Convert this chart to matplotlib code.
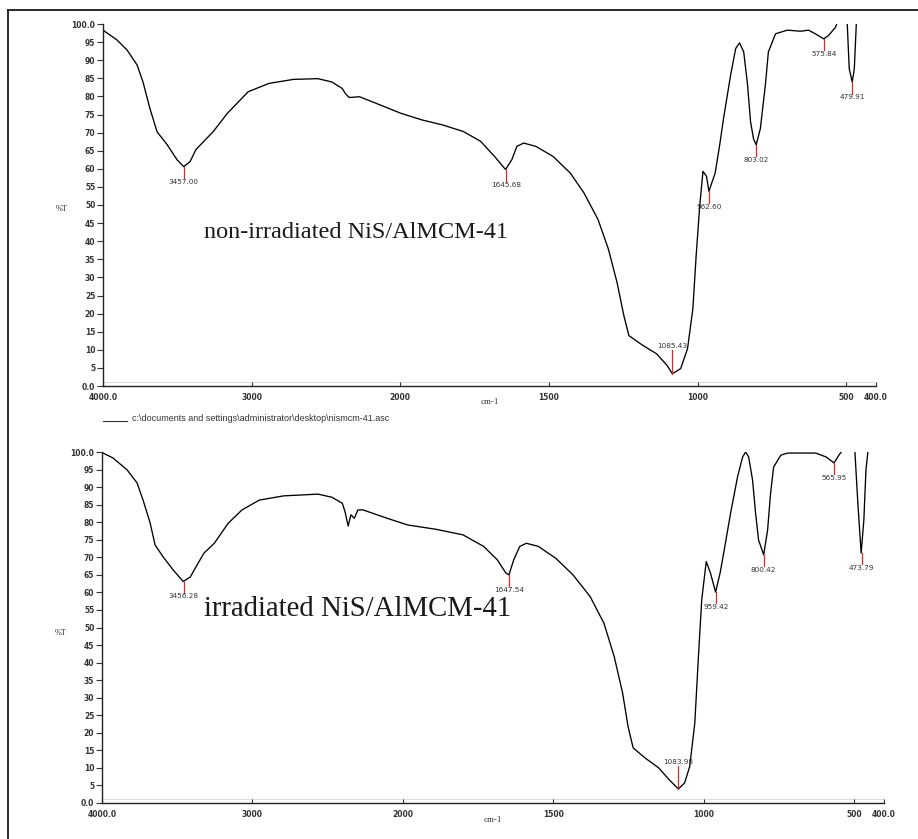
import numpy as np
import matplotlib
matplotlib.use("Agg")
import matplotlib.pyplot as plt
from matplotlib.lines import Line2D

# ---------------- data ----------------
top_wn = [4000, 3993, 3906, 3838, 3771, 3731, 3684, 3636, 3569, 3502, 3457, 3414, 3375, 3258, 3164,
          3023, 2883, 2719, 2555, 2461, 2391, 2368, 2344, 2274, 2133, 1997, 1927, 1857, 1788, 1730,
          1683, 1646, 1625, 1608, 1585, 1544, 1486, 1428, 1382, 1335, 1300, 1271, 1248, 1231, 1184,
          1138, 1103, 1085, 1057, 1034, 1016, 1005, 993, 982, 970, 962, 941, 925, 913, 889,
          872, 859, 845, 832, 822, 812, 803, 789, 772, 762, 738, 698, 654, 627, 604,
          576, 560, 537, 522, 505, 497, 490, 480, 473, 466, 455, 400]
top_t = [98.5, 98.1, 95.6, 92.8, 88.7, 84.0, 76.6, 70.2, 66.7, 62.5, 60.6, 62.0, 65.3, 70.3, 75.3,
         81.3, 83.6, 84.7, 84.9, 84.0, 82.2, 80.7, 79.7, 79.9, 77.6, 75.3, 73.5, 72.1, 70.3, 67.6,
         63.4, 59.8, 62.5, 66.2, 67.1, 66.2, 63.4, 58.8, 53.3, 46.0, 37.8, 28.6, 19.4, 13.9, 11.2,
         8.9, 5.7, 3.4, 4.8, 10.3, 21.3, 35.9, 49.7, 59.3, 57.9, 53.8, 58.8, 67.0, 73.8, 85.9,
         93.2, 94.8, 92.3, 83.2, 73.0, 68.3, 66.6, 71.1, 83.2, 92.3, 97.3, 98.3, 98.0, 98.3, 97.3,
         95.9, 96.8, 99.0, 102, 104, 100.5, 87.6, 84.0, 87.6, 100.5, 106, 110]

bot_wn = [4000, 3993, 3927, 3833, 3767, 3727, 3680, 3647, 3593, 3527, 3460, 3413, 3360, 3322, 3253,
          3161, 3069, 2954, 2793, 2563, 2471, 2402, 2384, 2363, 2345, 2322, 2299, 2264, 2103, 1983,
          1891, 1800, 1731, 1686, 1657, 1647, 1631, 1611, 1589, 1549, 1491, 1434, 1377, 1331, 1297,
          1269, 1251, 1234, 1194, 1149, 1114, 1084, 1063, 1046, 1029, 1017, 1006, 991, 977, 960,
          945, 933, 910, 887, 870, 860, 850, 837, 827, 817, 800, 787, 777, 767, 743,
          720, 627, 593, 566, 550, 533, 515, 497, 487, 476, 467, 460, 453, 430, 400]
bot_t = [99.8, 99.7, 98.3, 94.9, 91.2, 86.3, 79.8, 73.5, 70.1, 66.4, 63.1, 64.4, 68.4, 71.2, 74.0,
         79.7, 83.5, 86.3, 87.5, 88.0, 87.1, 85.4, 83.0, 78.9, 82.1, 81.1, 83.5, 83.5, 81.1, 79.2,
         78.0, 76.4, 73.1, 69.3, 65.5, 65.0, 69.3, 73.1, 74.0, 73.1, 69.7, 65.0, 58.8, 51.2, 41.7,
         31.3, 21.8, 15.7, 12.8, 10.0, 6.6, 4.0, 5.7, 10.4, 22.8, 41.7, 57.9, 68.8, 65.5, 60.1,
         65.5, 71.2, 82.6, 92.9, 98.6, 100.0, 98.6, 92.0, 82.6, 74.9, 70.7, 77.8, 88.3, 95.7, 99.1,
         99.7, 99.7, 98.6, 96.9, 99.1, 101, 104, 100.5, 85.5, 71.2, 80.6, 94.9, 100.5, 106, 110]

top_peak_x = [3457.00, 1645.68, 1085.43, 962.60, 803.02, 575.84, 479.91]
top_peak_t = [60.6, 59.8, 3.4, 53.8, 66.6, 95.9, 84.0]
bot_peak_x = [3456.28, 1647.54, 1083.98, 959.42, 800.42, 565.95, 473.79]
bot_peak_t = [63.1, 65.0, 4.0, 60.1, 70.7, 96.9, 71.2]

x_ticks = [4000, 3000, 2000, 1500, 1000, 500, 400]
x_tick_labels = ["4000.0", "3000", "2000", "1500", "1000", "500", "400.0"]
y_ticks = list(range(0, 101, 5))
y_tick_labels = ["0.0"] + [str(v) for v in range(5, 100, 5)] + ["100.0"]

top_title = "non-irradiated NiS/AlMCM-41"
bot_title = "irradiated NiS/AlMCM-41"
file_label = "c:\\documents and settings\\administrator\\desktop\\nismcm-41.asc"

# ---------------- figure ----------------
W, H = 918, 839
fig = plt.figure(figsize=(W / 100, H / 100), dpi=100)
fig.patch.set_facecolor("white")

# outer frame (left and top edges)
fig.add_artist(Line2D([8 / W, 8 / W], [0, 1 - 10 / H], transform=fig.transFigure, color="#1a1a1a", lw=1.3))
fig.add_artist(Line2D([8 / W, 1], [1 - 10 / H, 1 - 10 / H], transform=fig.transFigure, color="#1a1a1a", lw=1.3))


def fwd(x):
    x = np.asarray(x, dtype=float)
    return np.where(x >= 2000, x, 2 * x - 2000)


def inv(u):
    u = np.asarray(u, dtype=float)
    return np.where(u >= 2000, u, (u + 2000) / 2)


tick_font = dict(family="DejaVu Sans", size=5.5, weight="bold", color="#333333")


def setup(ax, wn, t, px, pt, title, title_pos, title_size, ylab_y, xlab_y):
    ax.set_xscale("function", functions=(fwd, inv))
    ax.set_xlim(4000, 400)
    ax.set_ylim(0, 100)
    ax.plot(wn, t, color="black", lw=0.95, clip_on=True)
    ax.axhline(1.2, color="#dddddd", lw=0.8, zorder=0)
    for s in ("top", "right"):
        ax.spines[s].set_visible(False)
    for s in ("left", "bottom"):
        ax.spines[s].set_linewidth(1.0)
        ax.spines[s].set_color("#222222")
    ax.set_xticks(x_ticks)
    ax.set_xticklabels(x_tick_labels, fontdict=tick_font)
    ax.set_yticks(y_ticks)
    ax.set_yticklabels(y_tick_labels, fontdict=tick_font)
    ax.xaxis.set_minor_locator(matplotlib.ticker.NullLocator())
    ax.tick_params(axis="x", direction="in", length=3, width=0.8, pad=5, color="#333333")
    ax.tick_params(axis="y", direction="out", length=4, width=0.8, pad=1.5, color="#333333")
    # peak markers
    for x, y in zip(px, pt):
        if y < 10:
            ax.plot([x, x], [y, y + 6.5], color="#d42a2a", lw=0.9)
            ax.text(x, y + 6.7, f"{x:.2f}", ha="center", va="bottom", fontsize=5.2, color="#333333")
        else:
            ax.plot([x, x], [y, y - 3.2], color="#d42a2a", lw=0.9)
            ax.text(x, y - 3.4, f"{x:.2f}", ha="center", va="top", fontsize=5.2, color="#333333")
    ax.text(-0.053, ylab_y, "%T", transform=ax.transAxes, ha="center", va="center",
            fontsize=6, family="Liberation Serif", color="#333333")
    ax.text(0.5, xlab_y, "cm-1", transform=ax.transAxes, ha="center", va="center",
            fontsize=6.5, family="Liberation Serif", color="#333333")
    ax.text(title_pos[0], title_pos[1], title, transform=ax.transAxes, ha="left", va="baseline",
            fontsize=title_size, family="Liberation Serif", color="#1a1a1a")


ax1 = fig.add_axes([103 / W, 1 - 386 / H, (876 - 103) / W, (386 - 24) / H])
setup(ax1, top_wn, top_t, top_peak_x, top_peak_t, top_title, (0.131, 0.409), 17.5, 0.49, -0.045)

ax2 = fig.add_axes([102 / W, 1 - 803 / H, (884 - 102) / W, (803 - 452) / H])
setup(ax2, bot_wn, bot_t, bot_peak_x, bot_peak_t, bot_title, (0.131, 0.534), 20.7, 0.484, -0.048)

# file legend line under the top chart
fig.add_artist(Line2D([103 / W, 127 / W], [1 - 421 / H, 1 - 421 / H], transform=fig.transFigure,
                      color="#333333", lw=0.8))
fig.text(132 / W, 1 - 419 / H, file_label, ha="left", va="center", fontsize=6.5,
         family="Liberation Sans", color="#333333")

fig.savefig("out.png", dpi=100, facecolor="white")
